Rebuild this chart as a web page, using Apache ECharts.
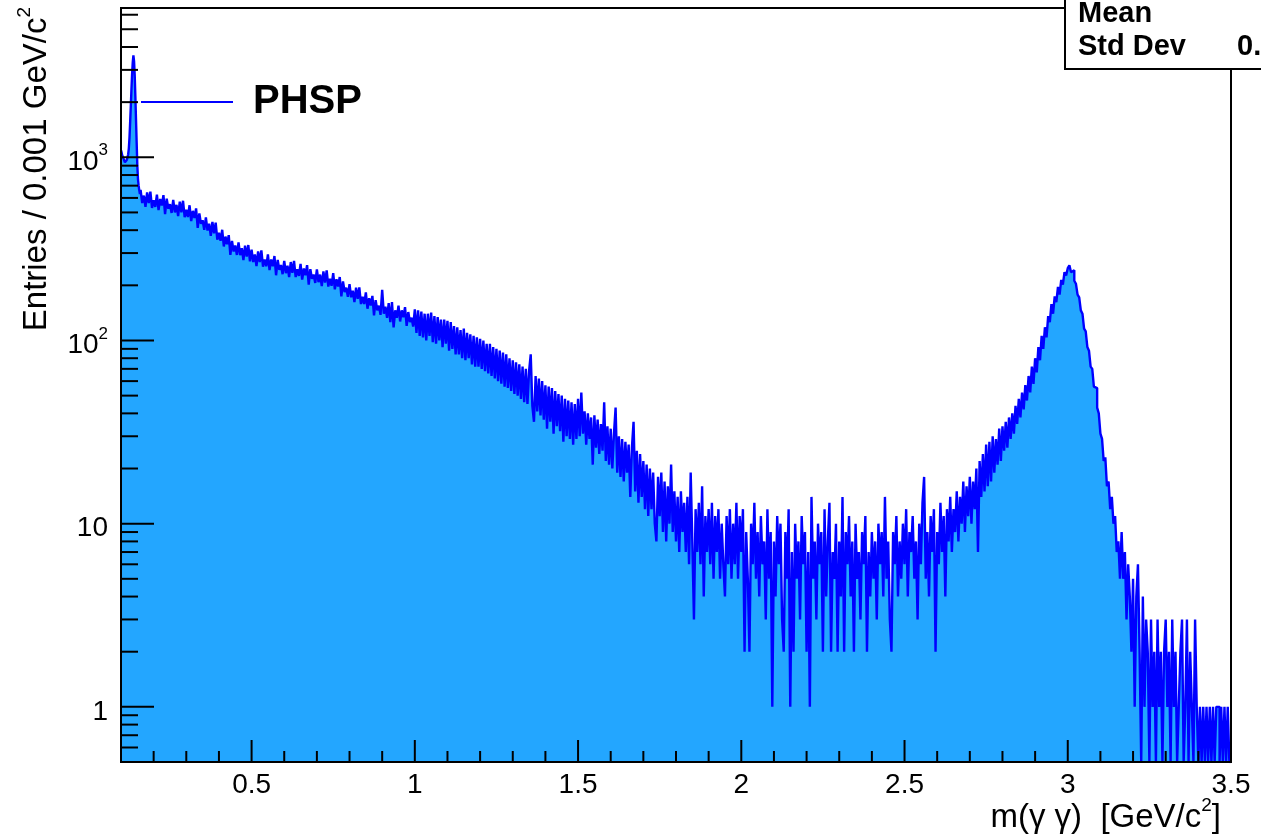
<!DOCTYPE html>
<html>
<head>
<meta charset="utf-8">
<script src="https://cdn.jsdelivr.net/npm/echarts@6/dist/echarts.min.js"></script>
<style>
html,body{margin:0;padding:0;background:#ffffff;}
#chart{width:1261px;height:840px;}
</style>
</head>
<body>
<div id="chart"></div>
<script>
const FONT = '"Liberation Sans", Arial, Helvetica, sans-serif';
const X_MIN = 0.1, X_MAX = 3.5, Y_MIN = 0.5, Y_MAX = 6530;

// pi0 peak region: 0.002 GeV bins starting at 0.100
const peakStart = 0.100, peakBinWidth = 0.002;
const peakCounts = [1090,1060,1020,1000,980,960,940,930,945,970,1000,1040,1120,1280,1550,1900,2350,2850,3300,3600,3350,2800,2150,1600,1200,900,760,700,660,630];

// rest of the range: 0.005 GeV bins starting at 0.160 (entries per 0.001 GeV)
const bulkStart = 0.160, bulkBinWidth = 0.005;
const counts_0160_0495 = [664,563,618,536,643,562,650,529,583,536,625,515,592,545,622,490,594,524,554,497,585,500,550,477,573,501,579,471,517,472,547,448,510,466,526,412,494,433,453,402,470,398,434,373,444,384,440,355,387,350,402,326,369,335,376,293,350,306,330,293,343,292,319,275,329,287,332,270];
const counts_0500_0995 = [313,268,295,255,306,268,310,253,277,254,295,242,277,254,289,227,275,243,258,230,272,233,256,222,268,234,272,222,245,225,262,215,247,227,258,202,245,217,229,206,244,208,229,198,238,207,241,197,217,199,233,190,216,197,222,174,210,184,194,173,203,172,187,162,194,169,195,158,173,158,183,149,170,155,175,137,166,146,155,138,189,140,153,133,160,126,162,118,146,133,155,127,146,134,152,120,143,126,133,119];
const counts_1000_1495 = [148,110,146,106,144,104,140,100,140,106,142,98,136,96,134,100,130,92,130,96,128,88,126,90,120,84,118,84,114,80,116,78,110,80,108,74,106,72,104,72,102,70,100,68,96,66,96,64,92,62,90,60,88,58,86,56,84,55,80,53,78,51,76,50,74,48,72,46,70,45,68,84,44,36,64,41,62,39,60,37,57,33,56,36,55,31,53,34,51,32,50,28,48,30,47,29,46,27,45,29];
const counts_1500_1995 = [48,30,52,31,41,27,40,29,38,21,39,26,37,24,35,25,46,22,34,21,33,20,31,43,19,30,18,29,17,28,19,27,14,26,36,15,25,13,24,14,22,12,21,11,20,12,19,10,8,18,11,19,9,17,8,16,10,21,9,15,8,14,7,15,9,13,7,14,6,19,8,3,12,7,13,6,16,4,11,7,12,6,13,5,11,7,12,5,10,6,4,11,6,12,5,10,6,13,5,11];
const counts_2000_2495 = [7,12,2,9,5,2,10,6,13,5,9,4,11,6,8,3,12,5,9,1,8,4,11,6,10,3,2,9,5,12,1,7,2,10,5,8,3,11,6,9,2,7,1,14,5,8,3,10,6,9,2,12,4,8,13,2,7,5,10,2,8,4,14,2,9,6,11,4,8,2,10,5,7,3,9,6,11,2,7,4,9,5,8,3,10,6,9,4,14,5,8,3,2,9,6,11,4,8,5,10];
const counts_2500_2995 = [6,12,4,9,7,11,5,8,3,10,6,13,18,5,9,4,11,7,12,2,9,6,13,7,11,4,12,8,14,7,12,9,15,8,14,10,17,9,16,11,18,10,17,12,20,7,22,14,24,15,27,16,28,17,30,19,29,21,33,22,34,25,36,26,38,29,40,31,44,35,48,38,52,42,57,47,64,52,72,58,80,67,92,78,106,90,118,104,136,126,158,140,174,162,196,178,214,202,236,226];
const counts_3000_3495 = [248,257,236,242,212,204,178,172,146,140,116,112,92,88,72,70,56,55,43,40,31,29,22,23,16,17,12,14,10,11,7,8,5,9,5,7,3,6,4,2,5,1,4,6,2,0,4,1,3,2,0,3,1,2,0,3,1,2,0,2,3,1,2,0,3,1,2,0,1,2,3,0,1,3,0,2,1,0,3,1,0,1,0,1,0,1,0,1,0,1,0,1,1,0,1,0,1,0,1,0];

// axis ticks and labels
const xMajorTicks = [0.5, 1, 1.5, 2, 2.5, 3, 3.5];
const xMinorTicks = [0.2,0.3,0.4,0.6,0.7,0.8,0.9,1.1,1.2,1.3,1.4,1.6,1.7,1.8,1.9,2.1,2.2,2.3,2.4,2.6,2.7,2.8,2.9,3.1,3.2,3.3,3.4];
const yMajorTicks = [1, 10, 100, 1000];
const yMajorLabels = ['1', '10', '10^2', '10^3'];
const yMinorTicks = [0.6,0.7,0.8,0.9,2,3,4,5,6,7,8,9,20,30,40,50,60,70,80,90,200,300,400,500,600,700,800,900,2000,3000,4000,5000,6000];

// ---- build histogram step data ----
const bins = [];
peakCounts.forEach((c, i) => bins.push([+(peakStart + i * peakBinWidth).toFixed(4), c]));
const bulk = [].concat(counts_0160_0495, counts_0500_0995, counts_1000_1495, counts_1500_1995,
                       counts_2000_2495, counts_2500_2995, counts_3000_3495);
bulk.forEach((c, i) => bins.push([+(bulkStart + i * bulkBinWidth).toFixed(4), c]));
const stepData = bins.map(([x, c]) => [x, Math.max(c, Y_MIN)]);
stepData.push([X_MAX, Math.max(bins[bins.length - 1][1], Y_MIN)]);

const yTickData = yMajorTicks.map((v, i) => [X_MIN, v, 1, i]).concat(yMinorTicks.map(v => [X_MIN, v, 0, -1]));
const xTickData = xMajorTicks.map(v => [v, Y_MIN, 1]).concat(xMinorTicks.map(v => [v, Y_MIN, 0]));

function richLabel(s) {
  const parts = s.split('^');
  return parts.length === 2 ? '{b|' + parts[0] + '}{s|' + parts[1] + '}' : '{b|' + s + '}';
}

const tickRich = {
  b: { fontSize: 28, fontFamily: FONT, color: '#000', lineHeight: 40 },
  s: { fontSize: 17, fontFamily: FONT, color: '#000', lineHeight: 16, verticalAlign: 'top' }
};
const titleRich = {
  a: { fontSize: 33, fontFamily: FONT, color: '#000', lineHeight: 44 },
  s: { fontSize: 19, fontFamily: FONT, color: '#000', lineHeight: 18, verticalAlign: 'top' }
};

const chart = echarts.init(document.getElementById('chart'), null, { renderer: 'canvas' });

chart.setOption({
  animation: false,
  backgroundColor: '#ffffff',
  grid: {
    left: 121, right: 30, top: 8, bottom: 78,
    show: true, borderColor: '#000', borderWidth: 2, backgroundColor: 'transparent',
    outerBoundsMode: 'none'
  },
  legend: {
    data: ['PHSP'],
    left: 141, top: 82,
    itemWidth: 92, itemHeight: 2, icon: 'rect',
    padding: 0, itemGap: 0, selectedMode: false,
    itemStyle: { color: '#0000ff', borderWidth: 0 },
    textStyle: { fontSize: 40, fontWeight: 'bold', color: '#000', fontFamily: FONT, lineHeight: 40, padding: [0, 0, 0, 15] }
  },
  xAxis: {
    type: 'value', min: X_MIN, max: X_MAX, interval: 0.1, z: 10,
    axisLine: { show: true, lineStyle: { color: '#000', width: 2 } },
    axisTick: { show: false },
    splitLine: { show: false },
    axisLabel: {
      margin: 9, fontSize: 28, color: '#000', fontFamily: FONT,
      formatter: function (v) {
        const r = Math.round(v * 10);
        return r % 5 === 0 ? String(r / 10) : '';
      }
    }
  },
  yAxis: {
    type: 'log', logBase: 10, min: Y_MIN, max: Y_MAX, z: 10,
    axisLine: { show: true, lineStyle: { color: '#000', width: 2 } },
    axisTick: { show: false },
    axisLabel: { show: false },
    splitLine: { show: false },
    minorTick: { show: false }
  },
  series: [
    {
      name: 'PHSP', type: 'line', step: 'end', data: stepData,
      symbol: 'none', showSymbol: false, silent: true, z: 2,
      color: '#0000ff',
      lineStyle: { color: '#0000ff', width: 2.4 },
      areaStyle: { color: '#23a6ff', opacity: 1, origin: 'start' }
    },
    {
      name: 'yTicks', type: 'custom', coordinateSystem: 'cartesian2d', silent: true, z: 5, clip: false,
      data: yTickData,
      renderItem: function (params, api) {
        const p = api.coord([api.value(0), api.value(1)]);
        const major = api.value(2) === 1;
        const len = major ? 33 : 17;
        const children = [{
          type: 'line',
          shape: { x1: p[0], y1: p[1], x2: p[0] + len, y2: p[1] },
          style: { stroke: '#000', lineWidth: 2 }
        }];
        if (major) {
          const idx = yTickData[params.dataIndex][3];
          children.push({
            type: 'text', x: p[0] - 13, y: p[1] + 5,
            style: { text: richLabel(yMajorLabels[idx]), rich: tickRich, align: 'right', verticalAlign: 'middle' }
          });
        }
        return { type: 'group', children: children };
      }
    },
    {
      name: 'xTicks', type: 'custom', coordinateSystem: 'cartesian2d', silent: true, z: 5, clip: false,
      data: xTickData,
      renderItem: function (params, api) {
        const p = api.coord([api.value(0), api.value(1)]);
        const len = api.value(2) === 1 ? 22 : 11;
        return {
          type: 'line',
          shape: { x1: p[0], y1: p[1], x2: p[0], y2: p[1] - len },
          style: { stroke: '#000', lineWidth: 2 }
        };
      }
    }
  ],
  graphic: [
    {
      type: 'text', x: 37, y: 7, rotation: Math.PI / 2, z: 50,
      style: { text: '{a|Entries / 0.001 GeV/c}{s|2}', rich: titleRich, align: 'right', verticalAlign: 'middle' }
    },
    {
      type: 'text', x: 1221, y: 818, z: 50,
      style: { text: '{a|m(γ γ)  [GeV/c}{s|2}{a|]}', rich: titleRich, align: 'right', verticalAlign: 'middle' }
    },
    {
      type: 'rect', z: 100,
      shape: { x: 1065, y: -10, width: 220, height: 79 },
      style: { fill: '#ffffff', stroke: '#000', lineWidth: 2 }
    },
    {
      type: 'text', x: 1078, y: 14, z: 101,
      style: { text: 'Mean', font: 'bold 29px ' + FONT, fill: '#000', align: 'left', verticalAlign: 'middle' }
    },
    {
      type: 'text', x: 1078, y: 47, z: 101,
      style: { text: 'Std Dev', font: 'bold 29px ' + FONT, fill: '#000', align: 'left', verticalAlign: 'middle' }
    },
    {
      type: 'text', x: 1237, y: 47, z: 101,
      style: { text: '0.', font: 'bold 29px ' + FONT, fill: '#000', align: 'left', verticalAlign: 'middle' }
    }
  ]
});
</script>
</body>
</html>
